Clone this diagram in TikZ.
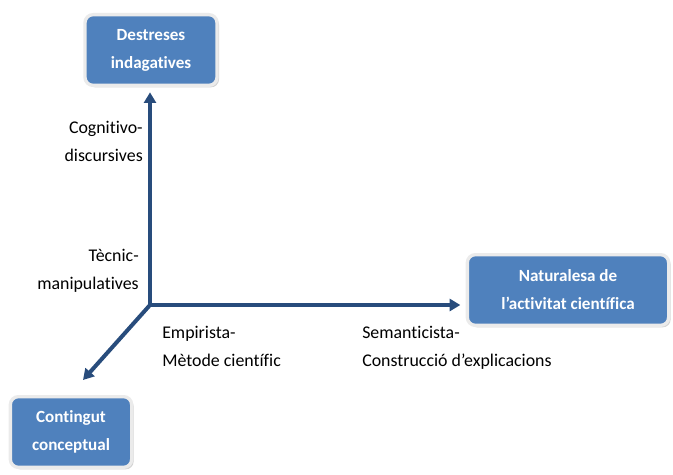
\documentclass[tikz,border=0pt]{standalone}
\usepackage{fontspec}
\setmainfont{Carlito}[Ligatures=NoCommon]
\usetikzlibrary{arrows.meta,shadows}
\definecolor{boxblue}{RGB}{79,129,189}
\definecolor{axisblue}{RGB}{40,76,124}
\begin{document}
\begin{tikzpicture}[x=0.75pt, y=-0.75pt,
  dimbox/.style={draw=white!92!black, line width=2.5pt, fill=boxblue, rounded corners=6pt,
    text=white, font=\fontsize{12.8}{21}\selectfont\bfseries, align=center,
    drop shadow={shadow xshift=1.5pt, shadow yshift=-1.5pt, opacity=0.35}},
  axis/.style={draw=axisblue, line width=3pt, miter limit=4},
  lbl/.style={font=\fontsize{13.4}{21}\selectfont, inner sep=0pt}]
  \useasboundingbox (0,0) rectangle (673,474);

  \node[dimbox, minimum width=99pt, minimum height=53pt] (dest) at (151,50) {Destreses\\indagatives};
  \node[dimbox, minimum width=151pt, minimum height=53pt] (nat) at (568,290) {Naturalesa de\\l’activitat científica};
  \node[dimbox, minimum width=91pt, minimum height=53pt] (cont) at (71,432) {Contingut\\conceptual};

  \coordinate (origin) at (150,305);
  \draw[axis, {Triangle[length=8pt,width=9pt]}-{Triangle[length=8pt,width=9pt]}]
    ([yshift=-4pt]dest.south -| origin) -- (origin) -- ([xshift=-4pt]nat.west |- origin);
  \draw[axis, -{Triangle[length=8pt,width=9pt]}] (origin) -- (83,380);

  \node[lbl, anchor=east, align=right] (cog) at (143,141) {Cognitivo-\\discursives};
  \node[lbl, anchor=east, align=right] (tec) at (139,271) {Tècnic-\\manipulatives};
  \node[lbl, anchor=north west, align=left] (emp) at (162,326) {Empirista-\\Mètode científic};
  \node[lbl, anchor=north west, align=left] (sem) at (362,326) {Semanticista-\\Construcció d’explicacions};
\end{tikzpicture}
\end{document}
